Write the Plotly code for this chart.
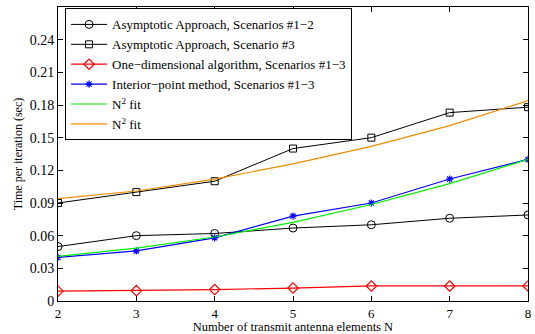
import plotly.graph_objects as go

N = [2, 3, 4, 5, 6, 7, 8]
asym_12 = [0.050, 0.060, 0.062, 0.067, 0.070, 0.076, 0.079]
asym_3 = [0.090, 0.100, 0.110, 0.140, 0.150, 0.173, 0.178]
one_dim = [0.009, 0.0095, 0.0105, 0.0119, 0.0138, 0.0138, 0.0138]
interior = [0.040, 0.046, 0.058, 0.078, 0.090, 0.112, 0.130]
fit_green = [0.041, 0.0485, 0.0588, 0.0722, 0.0886, 0.1078, 0.130]
fit_orange = [0.094, 0.101, 0.112, 0.126, 0.142, 0.161, 0.184]

names = [
    "Asymptotic Approach, Scenarios #1\u22122",
    "Asymptotic Approach, Scenario #3",
    "One\u2212dimensional algorithm, Scenarios #1\u22123",
    "Interior\u2212point method, Scenarios #1\u22123",
    "N<sup>2</sup> fit",
    "N<sup>2</sup> fit",
]
yticks = [0, 0.03, 0.06, 0.09, 0.12, 0.15, 0.18, 0.21, 0.24]
yticklabels = ["0", "0.03", "0.06", "0.09", "0.12", "0.15", "0.18", "0.21", "0.24"]

FONT = "Liberation Serif"

fig = go.Figure()
fig.add_trace(go.Scatter(x=N, y=asym_12, name=names[0], mode="lines+markers",
                         line=dict(color="black", width=1),
                         marker=dict(symbol="circle-open", size=8, color="black", line=dict(width=1))))
fig.add_trace(go.Scatter(x=N, y=asym_3, name=names[1], mode="lines+markers",
                         line=dict(color="black", width=1),
                         marker=dict(symbol="square-open", size=7, color="black", line=dict(width=1))))
fig.add_trace(go.Scatter(x=N, y=one_dim, name=names[2], mode="lines+markers",
                         line=dict(color="red", width=1.2),
                         marker=dict(symbol="diamond-open", size=8, color="red", line=dict(width=1.2))))
fig.add_trace(go.Scatter(x=N, y=interior, name=names[3], mode="lines+markers",
                         line=dict(color="blue", width=1.2),
                         marker=dict(symbol="asterisk-open", size=6, color="blue", line=dict(width=1.2, color="blue"))))
fig.add_trace(go.Scatter(x=N, y=fit_green, name=names[4], mode="lines",
                         line=dict(color="#00ee00", width=1.2)))
fig.add_trace(go.Scatter(x=N, y=fit_orange, name=names[5], mode="lines",
                         line=dict(color="#f08c00", width=1.2)))

fig.update_layout(
    template="none",
    width=535, height=334,
    margin=dict(l=58, r=7, t=7, b=33),
    paper_bgcolor="white", plot_bgcolor="white",
    font=dict(family=FONT, size=14, color="black"),
    legend=dict(x=0.015, y=0.995, xanchor="left", yanchor="top",
                bordercolor="black", borderwidth=1, bgcolor="white",
                font=dict(family=FONT, size=13, color="black"), tracegroupgap=0, itemwidth=36),
    showlegend=True,
)
fig.update_xaxes(range=[2, 8], tickvals=N, ticks="inside", ticklen=5, tickcolor="black",
                 tickfont=dict(family=FONT, size=13, color="black"),
                 showline=True, linecolor="black", linewidth=1, mirror="ticks",
                 showgrid=False, zeroline=False,
                 title=dict(text="Number of transmit antenna elements N", standoff=2,
                            font=dict(family=FONT, size=12.5, color="black")))
fig.update_yaxes(range=[0, 0.27], tickvals=yticks, ticktext=yticklabels, ticks="inside",
                 ticklen=5, tickcolor="black",
                 tickfont=dict(family=FONT, size=14, color="black"),
                 showline=True, linecolor="black", linewidth=1, mirror="ticks",
                 showgrid=False, zeroline=False,
                 title=dict(text="Time per iteration (sec)", standoff=4,
                            font=dict(family=FONT, size=12, color="black")))

fig.write_html("out.html")
